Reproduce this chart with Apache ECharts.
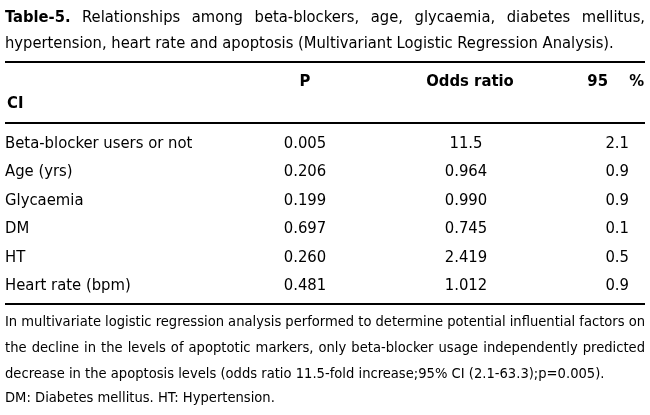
<!DOCTYPE html>
<html>
<head>
<meta charset="utf-8">
<script src="https://cdn.jsdelivr.net/npm/echarts@6/dist/echarts.min.js"></script>
<style>
  html, body { margin: 0; padding: 0; background: #fff; }
  #chart { width: 650px; height: 415px; }
</style>
</head>
<body>
<div id="chart"></div>
<script>
// table content
var rowLabels = ['Beta-blocker users or not', 'Age (yrs)', 'Glycaemia', 'DM', 'HT', 'Heart rate (bpm)'];
var pValues = ['0.005', '0.206', '0.199', '0.697', '0.260', '0.481'];
var oddsRatios = ['11.5', '0.964', '0.990', '0.745', '2.419', '1.012'];
var ciLower = ['2.1', '0.9', '0.9', '0.1', '0.5', '0.9'];
var headers = ['P', 'Odds ratio'];

var titleLine1 = 'Table-5. Relationships among beta-blockers, age, glycaemia, diabetes mellitus,';
var titleLine2 = 'hypertension, heart rate and apoptosis (Multivariant Logistic Regression Analysis).';
var noteLines = [
    'In multivariate logistic regression analysis performed to determine potential influential factors on',
    'the decline in the levels of apoptotic markers, only beta-blocker usage independently predicted',
    'decrease in the apoptosis levels (odds ratio 11.5-fold increase;95% CI (2.1-63.3);p=0.005).',
    'DM: Diabetes mellitus. HT: Hypertension.'
];

var FONT = "'Liberation Sans Narrow', 'DejaVu Sans Condensed', sans-serif";
var INK = '#000';
var colX = { label: 5, p: 305, odds: 466, ci: 629 };

var measure = document.createElement('canvas').getContext('2d');
function textWidth (str, size, weight) {
    measure.font = (weight || 'normal') + ' ' + size + 'px ' + FONT;
    return measure.measureText(str).width;
}

// lay words out across the full width, like a justified paragraph line
function justified (line, y, size, boldFirst) {
    let words = line.split(' ');
    let widths = words.map((w, i) => textWidth(w, size, (boldFirst && i === 0) ? 'bold' : 'normal'));
    let total = widths.reduce((a, b) => a + b, 0);
    let gap = (640 - total) / (words.length - 1);
    let x = 5;
    return words.map((w, i) => {
        let el = {
            type: 'text', x: x, y: y,
            style: {
                text: w, fill: INK, font: ((boldFirst && i === 0) ? 'bold ' : '') + size + 'px ' + FONT,
                verticalAlign: 'middle'
            }
        };
        x += widths[i] + gap;
        return el;
    });
}

function plain (str, x, y, size, bold, align) {
    return {
        type: 'text', x: x, y: y,
        style: {
            text: str, fill: INK, font: (bold ? 'bold ' : '') + size + 'px ' + FONT,
            align: align || 'left', verticalAlign: 'middle'
        }
    };
}

function rule (y) {
    return { type: 'line', shape: { x1: 5, y1: y, x2: 645, y2: y }, style: { stroke: INK, lineWidth: 2 } };
}

var graphics = [].concat(
    justified(titleLine1, 18, 16.4, true),
    [plain(titleLine2, 5, 44, 16.4)],
    [rule(62)],
    [plain(headers[0], colX.p, 82, 16.5, true, 'center'),
     plain(headers[1], colX.odds + 4, 82, 16.5, true, 'center'),
     plain('95', 608, 82, 16.5, true, 'right'),
     plain('%', 644, 82, 16.5, true, 'right'),
     plain('CI', 7, 104, 16.5, true)],
    [rule(123), rule(304)],
    justified(noteLines[0], 322, 14.6),
    justified(noteLines[1], 348, 14.6),
    [plain(noteLines[2], 5, 374, 14.6), plain(noteLines[3], 5, 398, 14.6)]
);

function column (values, x, align) {
    return {
        type: 'scatter',
        symbolSize: 0,
        silent: true,
        itemStyle: { opacity: 1 },
        data: values.map((v, i) => [x, rowLabels[i], v]),
        label: {
            show: true,
            position: 'inside',
            formatter: p => p.value[2],
            color: INK,
            opacity: 1,
            textBorderWidth: 0,
            fontFamily: FONT,
            fontSize: 16.5,
            align: align
        }
    };
}

var chart = echarts.init(document.getElementById('chart'), null, { renderer: 'canvas' });
chart.setOption({
    backgroundColor: '#fff',
    animation: false,
    grid: { left: 0, right: 0, top: 129, height: 171 },
    xAxis: { type: 'value', min: 0, max: 650, show: false },
    yAxis: { type: 'category', data: rowLabels, inverse: true, show: false },
    series: [
        column(rowLabels, colX.label, 'left'),
        column(pValues, colX.p, 'center'),
        column(oddsRatios, colX.odds, 'center'),
        column(ciLower, colX.ci, 'right')
    ],
    graphic: graphics
});
</script>
</body>
</html>
